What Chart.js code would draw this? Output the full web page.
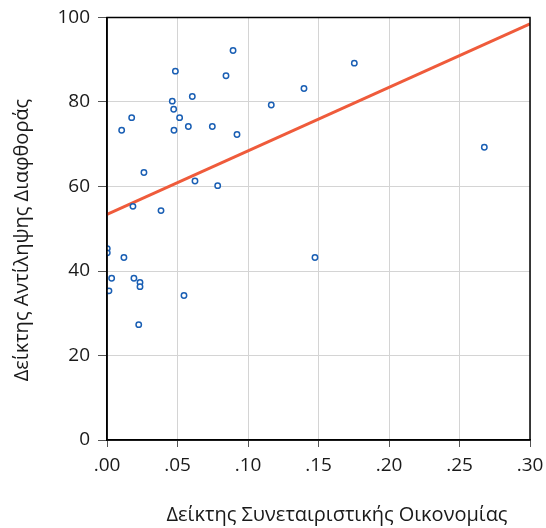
<!DOCTYPE html>
<html><head><meta charset="utf-8">
<script src="https://cdn.jsdelivr.net/npm/chart.js@4"></script>
<style>html,body{margin:0;padding:0;background:#fff}#w{width:546px;height:528px}</style>
</head><body><div id="w"><canvas id="c"></canvas></div>
<script>
const xValues = [0.0894,0.0485,0.0844,0.0605,0.0463,0.0473,0.0175,0.0515,0.0104,0.0475,0.0577,0.0747,0.0922,
  0.1754,0.1397,0.1165,0.2676,
  0.0262,0.0624,0.0785,0.0184,0.0383,0.0002,0.0002,0.0120,0.0033,0.0191,0.0234,0.0234,0.0014,0.0546,
  0.0225,0.1475];
const yValues = [92.2,87.3,86.2,81.3,80.2,78.3,76.3,76.3,73.3,73.3,74.2,74.2,72.3,
  89.2,83.2,79.3,69.3,
  63.3,61.3,60.2,55.3,54.3,45.3,44.3,43.2,38.3,38.3,37.3,36.3,35.3,34.2,
  27.3,43.2];
const fitX = [0, 0.30];
const fitY = [53.4, 98.5];
const xTicks = [0,0.05,0.10,0.15,0.20,0.25,0.30];
const yTicks = [0,20,40,60,80,100];
const xTitle = 'Δείκτης Συνεταιριστικής Οικονομίας';
const yTitle = 'Δείκτης Αντίληψης Διαφθοράς';

const FONT = '"Open Sans", "Noto Sans", sans-serif';
const boxPlugin = {
  id:'box',
  afterDraw(chart){
    const {ctx, chartArea:a} = chart;
    ctx.save();
    ctx.strokeStyle='#000'; ctx.lineWidth=1.5;
    ctx.strokeRect(a.left, a.top, a.right-a.left, a.bottom-a.top);
    ctx.fillStyle='#1a1a1a';
    ctx.font='20px '+FONT;
    ctx.textAlign='center'; ctx.textBaseline='middle';
    ctx.fillText(xTitle, 337, 515);
    ctx.translate(22, 240);
    ctx.rotate(-Math.PI/2);
    ctx.fillText(yTitle, 0, 0);
    ctx.restore();
  }
};
new Chart(document.getElementById('c'), {
  type:'scatter',
  data:{datasets:[
    {type:'line', data: fitX.map((x,i)=>({x, y:fitY[i]})), borderColor:'#ef5b3b', borderWidth:3, pointRadius:0, fill:false, order:1},
    {data: xValues.map((x,i)=>({x, y:yValues[i]})), pointRadius:2.7, pointBorderWidth:1.5,
     pointBorderColor:'#1a5fb4', pointBackgroundColor:'#fff', borderColor:'#1a5fb4', backgroundColor:'#fff', order:0}
  ]},
  options:{
    responsive:true, maintainAspectRatio:false, animation:false,
    layout:{padding:{top:17.5,right:16,bottom:0,left:0}},
    plugins:{legend:{display:false}, tooltip:{enabled:false}},
    scales:{
      x:{type:'linear', min:0, max:0.30,
        afterBuildTicks(s){ s.ticks = xTicks.map(v=>({value:v})); },
        afterFit(s){ s.height = 88; s.paddingRight = 0; s.paddingLeft = 0; },
        ticks:{callback:v=>v.toFixed(2).replace(/^0/,''), color:'#1a1a1a', font:{family:FONT,size:19}, padding:7, maxRotation:0},
        grid:{color:'#d4d4d4', lineWidth:1, tickLength:7, tickColor:'#555'},
        border:{color:'#000', width:1.5},
        title:{display:false}
      },
      y:{type:'linear', min:0, max:100,
        afterBuildTicks(s){ s.ticks = yTicks.map(v=>({value:v})); },
        afterFit(s){ s.width = 107; s.paddingTop = 0; s.paddingBottom = 0; },
        ticks:{color:'#1a1a1a', font:{family:FONT,size:19}, padding:8},
        grid:{color:'#d4d4d4', lineWidth:1, tickLength:9, tickColor:'#555'},
        border:{color:'#000', width:1.5},
        title:{display:false}
      }
    }
  },
  plugins:[boxPlugin]
});
</script></body></html>
